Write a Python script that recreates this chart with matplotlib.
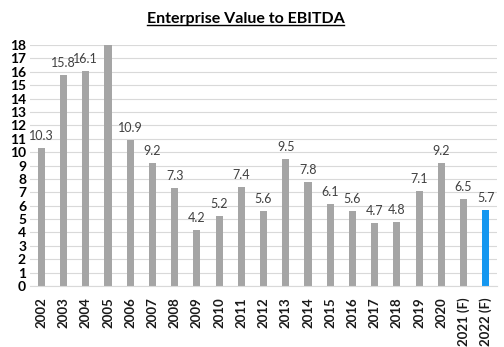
import matplotlib
matplotlib.use("Agg")
import matplotlib.pyplot as plt
from matplotlib.lines import Line2D

years = ["2002", "2003", "2004", "2005", "2006", "2007", "2008", "2009", "2010",
         "2011", "2012", "2013", "2014", "2015", "2016", "2017", "2018", "2019",
         "2020", "2021 (F)", "2022 (F)"]
ev_ebitda = [10.3, 15.8, 16.1, 20.0, 10.9, 9.2, 7.3, 4.2, 5.2, 7.4, 5.6, 9.5,
             7.8, 6.1, 5.6, 4.7, 4.8, 7.1, 9.2, 6.5, 5.7]
y_max = 18

plt.rcParams['font.family'] = ['Lato', 'DejaVu Sans']

fig = plt.figure(figsize=(5.04, 3.47), dpi=100)
ax = fig.add_axes([0.06, 0.176, 0.926, 0.694])

x = list(range(len(years)))
colors = ["#A5A5A5"] * (len(years) - 1) + ["#1597F0"]
ax.bar(x, ev_ebitda, width=0.32, color=colors, zorder=2)

for xi, v in zip(x, ev_ebitda):
    if v <= y_max:
        ax.text(xi, v + 0.45, f"{v:.1f}", ha="center", va="bottom",
                fontsize=9, color="#404040")

ax.set_xlim(-0.5, len(years) - 0.5)
ax.set_ylim(0, y_max)
ax.set_yticks(range(0, y_max + 1))
ax.set_yticklabels([str(i) for i in range(0, y_max + 1)], fontsize=10,
                   fontweight="bold")
ax.set_xticks(x)
ax.set_xticklabels(years, rotation=90, fontsize=9.5, fontweight="bold",
                   color="#1a1a1a")
ax.tick_params(axis="both", length=0, pad=3)
ax.tick_params(axis="x", pad=8)
ax.grid(axis="y", color="#D9D9D9", linewidth=0.8, zorder=0)
for s in ["top", "right", "left"]:
    ax.spines[s].set_visible(False)
ax.spines["bottom"].set_color("#D9D9D9")

title = fig.text(0.487, 0.945, "Enterprise Value to EBITDA", ha="center",
                 va="center", fontsize=11.5, fontweight="bold")
fig.canvas.draw()
bb = title.get_window_extent().transformed(fig.transFigure.inverted())
fig.add_artist(Line2D([bb.x0, bb.x1], [bb.y0 + 0.002, bb.y0 + 0.002],
                      transform=fig.transFigure, color="black", linewidth=1))

fig.savefig("out.png", dpi=100)
